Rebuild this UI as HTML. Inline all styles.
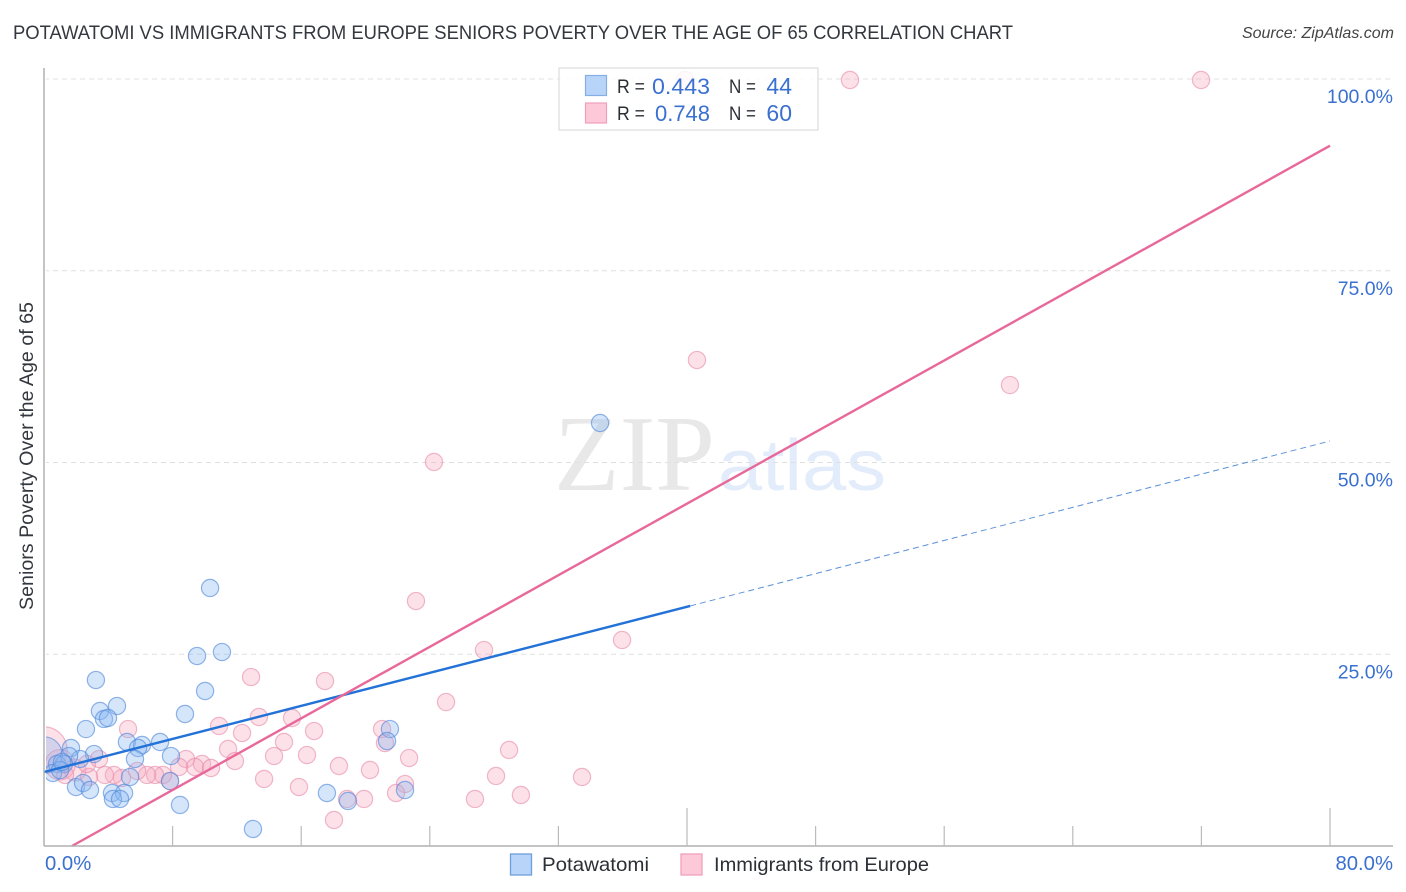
<!DOCTYPE html>
<html>
<head>
<meta charset="utf-8">
<title>Potawatomi vs Immigrants from Europe Seniors Poverty Chart</title>
<style>
html,body{margin:0;padding:0;background:#fff;}
svg{display:block;}
text{font-family:"Liberation Sans",sans-serif;}
</style>
</head>
<body>
<svg id="chart" xmlns="http://www.w3.org/2000/svg" width="1406" height="892" viewBox="0 0 1406 892">
  <text x="13" y="39" font-size="19.5" fill="#33373e" textLength="1000" lengthAdjust="spacingAndGlyphs">POTAWATOMI VS IMMIGRANTS FROM EUROPE SENIORS POVERTY OVER THE AGE OF 65 CORRELATION CHART</text>
  <text x="1394" y="38" font-size="16" font-style="italic" fill="#444" text-anchor="end">Source: ZipAtlas.com</text>
  <g id="watermark">
    <text x="554" y="490" font-size="108" fill="#e8e8e8" style="font-family:'Liberation Serif',serif" textLength="161" lengthAdjust="spacingAndGlyphs">ZIP</text>
    <text x="718" y="490" font-size="72" fill="#e2ecfa" style="font-family:'Liberation Sans',sans-serif" textLength="168" lengthAdjust="spacingAndGlyphs">atlas</text>
  </g>
  <g id="grid"></g>
  <g id="points"></g>
  <rect x="0" y="60" width="46" height="790" fill="#fff"/>
  <g id="lines"></g>
  <g id="axes"></g>
  <text transform="translate(33,456) rotate(-90)" font-size="19" fill="#33373e" text-anchor="middle" textLength="308" lengthAdjust="spacingAndGlyphs">Seniors Poverty Over the Age of 65</text>

  <g>
    <rect x="559" y="68" width="259" height="62" fill="#fff" fill-opacity="0.86" stroke="#dcdcdc" stroke-width="1.2"/>
    <rect x="585.5" y="75.5" width="21" height="20" fill="#b8d4f8" stroke="#86aee6" stroke-width="1.2"/>
    <rect x="585.5" y="103" width="21" height="20" fill="#fdc8d8" stroke="#f0a0bc" stroke-width="1.2"/>
    <text x="617" y="93" font-size="19.5" fill="#2b2f36" textLength="28" lengthAdjust="spacingAndGlyphs">R =</text>
    <text x="652" y="94" font-size="22.5" fill="#3a70d0" textLength="58" lengthAdjust="spacingAndGlyphs">0.443</text>
    <text x="729" y="93" font-size="19.5" fill="#2b2f36" textLength="27" lengthAdjust="spacingAndGlyphs">N =</text>
    <text x="792" y="94" font-size="23" fill="#3a70d0" text-anchor="end">44</text>
    <text x="617" y="120" font-size="19.5" fill="#2b2f36" textLength="28" lengthAdjust="spacingAndGlyphs">R =</text>
    <text x="655" y="121" font-size="22.5" fill="#3a70d0" textLength="55" lengthAdjust="spacingAndGlyphs">0.748</text>
    <text x="729" y="120" font-size="19.5" fill="#2b2f36" textLength="27" lengthAdjust="spacingAndGlyphs">N =</text>
    <text x="792" y="121" font-size="23" fill="#3a70d0" text-anchor="end">60</text>
  </g>

  <g>
    <rect x="510.5" y="854" width="21" height="21" fill="#b8d4f8" stroke="#6f9fdc" stroke-width="1.3"/>
    <text x="542" y="871" font-size="19.5" fill="#2b2f36" textLength="107" lengthAdjust="spacingAndGlyphs">Potawatomi</text>
    <rect x="681" y="854" width="21" height="21" fill="#fdc8d8" stroke="#f0a0bc" stroke-width="1.3"/>
    <text x="714" y="871" font-size="19.5" fill="#2b2f36" textLength="215" lengthAdjust="spacingAndGlyphs">Immigrants from Europe</text>
  </g>
</svg>
<script>
const yTickValues = [25, 50, 75, 100];
const yTickLabels = ["25.0%", "50.0%", "75.0%", "100.0%"];
const xTickValues = [0, 8, 16, 24, 32, 40, 48, 56, 64, 72, 80];
const xEdgeLabels = ["0.0%", "80.0%"];
const potawatomiX = [0, 3.23, 9.52, 11.07, 10.02, 8.77, 4.54, 3.48, 3.73, 3.98, 2.61, 5.16, 6.10, 5.85, 7.22, 7.90, 5.66, 3.11, 1.68, 2.24, 1.56, 0.81, 1.24, 0.56, 1.99, 2.43, 2.86, 5.35, 7.84, 4.23, 4.98, 4.29, 4.73, 8.46, 13.0, 17.6, 18.91, 21.52, 21.34, 22.46, 34.59, 10.33, 1.0, 1.12];
const potawatomiY = [11.86, 21.64, 24.77, 25.29, 20.21, 17.21, 18.25, 17.60, 16.56, 16.69, 15.25, 13.56, 13.17, 12.78, 13.56, 11.73, 11.34, 11.99, 12.78, 11.34, 11.73, 10.69, 10.69, 9.52, 7.69, 8.21, 7.30, 9.00, 8.47, 6.91, 6.91, 6.13, 6.13, 5.35, 2.22, 6.91, 5.87, 15.25, 13.69, 7.30, 55.15, 33.64, 9.9, 10.95];
const potawatomiWeight = [4.5];
const immigrantsX = [0, 1.0, 1.93, 1.31, 12.88, 17.48, 10.89, 13.37, 15.43, 12.32, 11.45, 11.88, 16.8, 14.93, 14.31, 16.36, 18.35, 13.69, 15.86, 18.85, 18.04, 5.23, 8.83, 9.83, 9.39, 10.39, 8.4, 7.84, 7.4, 6.91, 6.41, 5.79, 4.85, 4.35, 3.79, 2.8, 3.42, 2.67, 21.03, 21.21, 22.71, 20.28, 25.01, 27.37, 35.96, 28.93, 28.12, 33.47, 29.67, 26.81, 22.46, 21.9, 19.91, 50.14, 71.98, 39.88, 40.62, 60.09, 24.26, 23.14];
const immigrantsY = [12.5, 10.6, 9.91, 9.26, 22.03, 21.51, 15.65, 16.82, 16.69, 14.73, 12.65, 11.08, 14.99, 13.56, 11.73, 11.86, 10.43, 8.74, 7.69, 6.13, 3.39, 15.25, 11.34, 10.69, 10.3, 10.17, 10.3, 8.47, 9.26, 9.26, 9.26, 9.78, 8.87, 9.26, 9.26, 9.0, 11.34, 10.69, 15.25, 13.43, 11.47, 9.91, 18.77, 25.55, 26.86, 12.52, 9.13, 9.0, 6.65, 6.13, 8.08, 6.91, 6.13, 99.87, 99.87, 99.87, 63.36, 60.1, 50.07, 31.94];
const immigrantsWeight = [7.3, 3.1, 1.6];
const potawatomiSolidTrendX = [0, 40.2];
const potawatomiSolidTrendY = [9.65, 31.3];
const potawatomiDashedTrendX = [40.2, 80];
const potawatomiDashedTrendY = [31.3, 52.8];
const immigrantsTrendX = [1.74, 80];
const immigrantsTrendY = [0, 91.3];

const NS = "http://www.w3.org/2000/svg";
const xScale = v => 44 + v * (1330 - 44) / 80;
const yScale = v => 846 - v * (846 - 79) / 100;
const radius = w => 8.6 * Math.sqrt(w);

function make(tag, attrs, parent) {
  const el = document.createElementNS(NS, tag);
  for (const k in attrs) el.setAttribute(k, attrs[k]);
  parent.appendChild(el);
  return el;
}

const grid = document.getElementById("grid");
const axes = document.getElementById("axes");
const pointsG = document.getElementById("points");
const linesG = document.getElementById("lines");

yTickValues.forEach((v, i) => {
  const line = make("line", {x1: 44, x2: 1394, y1: yScale(v), y2: yScale(v), stroke: "#e0e0e0", "stroke-width": 1, "stroke-dasharray": "5 4"}, grid);
  
  
  const label = make("text", {x: 1393, y: yScale(v) + 24, "font-size": 19.5, fill: "#3a70d0", "text-anchor": "end"}, axes);
  
  
  label.textContent = yTickLabels[i];
});

const yAxis = make("line", {x1: 44, x2: 44, y1: 68, y2: 846, stroke: "#b0b0b0", "stroke-width": 1.5}, axes);


const xAxis = make("line", {x1: 44, x2: 1393, y1: 846, y2: 846, stroke: "#b0b0b0", "stroke-width": 1.5}, axes);



xTickValues.forEach((v, i) => {
  if (i === 0) return;
  const tall = i === 5 || i === 10;
  const t = make("line", {x1: xScale(v), x2: xScale(v), y1: tall ? 808 : 826, y2: 846, stroke: "#bbbbbb", "stroke-width": 1.2}, axes);
  
  
});

const xLabelStart = make("text", {x: 45, y: 870, "font-size": 20.3, fill: "#3a70d0"}, axes);


xLabelStart.textContent = xEdgeLabels[0];
const xLabelEnd = make("text", {x: 1393, y: 870, "font-size": 20.3, fill: "#3a70d0", "text-anchor": "end"}, axes);


xLabelEnd.textContent = xEdgeLabels[1];

immigrantsX.forEach((v, i) => {
  const w = immigrantsWeight[i] === undefined ? 1 : immigrantsWeight[i];
  const c = make("circle", {cx: xScale(v), cy: yScale(immigrantsY[i]), r: radius(w), fill: "#f7a8c0", "fill-opacity": 0.35, stroke: "#e88aa8", "stroke-opacity": 0.6, "stroke-width": 1.2}, pointsG);
  
  
});
potawatomiX.forEach((v, i) => {
  const w = potawatomiWeight[i] === undefined ? 1 : potawatomiWeight[i];
  const c = make("circle", {cx: xScale(v), cy: yScale(potawatomiY[i]), r: radius(w), fill: "#8ab8f0", "fill-opacity": 0.35, stroke: "#4f88dc", "stroke-opacity": 0.62, "stroke-width": 1.2}, pointsG);
  
  
});

const blueSolid = make("line", {x1: xScale(potawatomiSolidTrendX[0]), y1: yScale(potawatomiSolidTrendY[0]), x2: xScale(potawatomiSolidTrendX[1]), y2: yScale(potawatomiSolidTrendY[1]), stroke: "#2272d8", "stroke-width": 2.4}, linesG);


const blueDashed = make("line", {x1: xScale(potawatomiDashedTrendX[0]), y1: yScale(potawatomiDashedTrendY[0]), x2: xScale(potawatomiDashedTrendX[1]), y2: yScale(potawatomiDashedTrendY[1]), stroke: "#5a90d8", "stroke-width": 1, "stroke-dasharray": "6 4"}, linesG);


const pinkLine = make("line", {x1: xScale(immigrantsTrendX[0]), y1: yScale(immigrantsTrendY[0]), x2: xScale(immigrantsTrendX[1]), y2: yScale(immigrantsTrendY[1]), stroke: "#e8689a", "stroke-width": 2.4}, linesG);


</script>
</body>
</html>
